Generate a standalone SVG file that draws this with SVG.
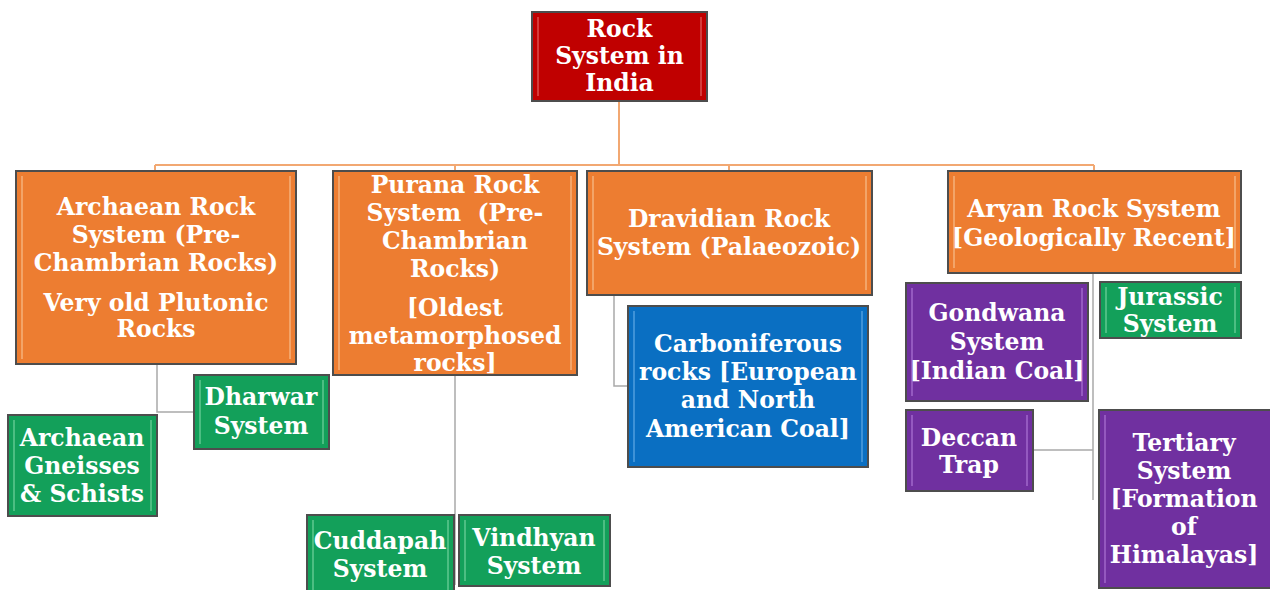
<svg xmlns="http://www.w3.org/2000/svg" width="1270" height="590" viewBox="0 0 1270 590">
<style>
.box{stroke:#4d4d4d;stroke-width:2}
.red{fill:#C00000}.org{fill:#ED7D31}.grn{fill:#13A05A}.blu{fill:#0A6FC2}.pur{fill:#7030A0}
.hl{fill:none;stroke-width:1.5;opacity:0.7}
.hred{stroke:#E87070}.horg{stroke:#F8C79A}.hgrn{stroke:#7FD8A8}.hblu{stroke:#6FB4EA}.hpur{stroke:#B57FDC}
.t{font-family:"DejaVu Serif","Liberation Serif",serif;font-weight:bold;font-size:23.5px;fill:#ffffff;text-anchor:middle}
.c1{stroke:#F2A872;stroke-width:2;fill:none}
.c2{stroke:#A9A9A9;stroke-width:1.5;fill:none}
</style>
<rect width="1270" height="590" fill="#ffffff"/>
<g id="connectors">
<path class="c1" d="M619,101 V165 M155,165 H1094 M155,165 V171 M455,165 V171 M729,165 V171 M1094,165 V171"/>
<path class="c2" d="M157,364 V412 H194"/>
<path class="c2" d="M455,375 V585"/>
<path class="c2" d="M614,295 V386 H628"/>
<path class="c2" d="M1093,273 V500 M1033,450 H1093"/>
</g>
<g id="root"><rect class="box red" x="532" y="12" width="175" height="89"/><path class="hl hred" d="M538,17 V96 M701,17 V96"/>
<text class="t" x="619.5" y="37">Rock</text><text class="t" x="619.5" y="64">System in</text><text class="t" x="619.5" y="91">India</text></g>
<g id="archaean"><rect class="box org" x="16" y="171" width="280" height="193"/><path class="hl horg" d="M22,176 V359 M290,176 V359"/>
<text class="t" x="156" y="215">Archaean Rock</text><text class="t" x="156" y="243">System (Pre-</text><text class="t" x="156" y="271">Chambrian Rocks)</text><text class="t" x="156" y="311">Very old Plutonic</text><text class="t" x="156" y="337">Rocks</text></g>
<g id="purana"><rect class="box org" x="333" y="171" width="244" height="204"/><path class="hl horg" d="M339,176 V370 M571,176 V370"/>
<text class="t" x="455" y="193">Purana Rock</text><text class="t" x="455" y="221" xml:space="preserve">System  (Pre-</text><text class="t" x="455" y="249">Chambrian</text><text class="t" x="455" y="277">Rocks)</text><text class="t" x="455" y="316">[Oldest</text><text class="t" x="455" y="344">metamorphosed</text><text class="t" x="455" y="371">rocks]</text></g>
<g id="dravidian"><rect class="box org" x="587" y="171" width="285" height="124"/><path class="hl horg" d="M593,176 V290 M866,176 V290"/>
<text class="t" x="729" y="227">Dravidian Rock</text><text class="t" x="729" y="255">System (Palaeozoic)</text></g>
<g id="aryan"><rect class="box org" x="948" y="171" width="293" height="102"/><path class="hl horg" d="M954,176 V268 M1235,176 V268"/>
<text class="t" x="1094" y="217">Aryan Rock System</text><text class="t" x="1094" y="246">[Geologically Recent]</text></g>
<g id="dharwar"><rect class="box grn" x="194" y="375" width="135" height="74"/><path class="hl hgrn" d="M200,380 V444 M323,380 V444"/>
<text class="t" x="261" y="405">Dharwar</text><text class="t" x="261" y="434">System</text></g>
<g id="gneisses"><rect class="box grn" x="8" y="415" width="149" height="101"/><path class="hl hgrn" d="M14,420 V511 M151,420 V511"/>
<text class="t" x="82" y="446">Archaean</text><text class="t" x="82" y="474">Gneisses</text><text class="t" x="82" y="502">&amp; Schists</text></g>
<g id="cuddapah"><rect class="box grn" x="307" y="515" width="147" height="80"/><path class="hl hgrn" d="M313,520 V590 M448,520 V590"/>
<text class="t" x="380" y="549">Cuddapah</text><text class="t" x="380" y="577">System</text></g>
<g id="vindhyan"><rect class="box grn" x="459" y="515" width="151" height="71"/><path class="hl hgrn" d="M465,520 V581 M604,520 V581"/>
<text class="t" x="534" y="546">Vindhyan</text><text class="t" x="534" y="574">System</text></g>
<g id="carboniferous"><rect class="box blu" x="628" y="306" width="240" height="161"/><path class="hl hblu" d="M634,311 V462 M862,311 V462"/>
<text class="t" x="748" y="352">Carboniferous</text><text class="t" x="748" y="380">rocks [European</text><text class="t" x="748" y="408">and North</text><text class="t" x="748" y="437">American Coal]</text></g>
<g id="gondwana"><rect class="box pur" x="906" y="283" width="182" height="118"/><path class="hl hpur" d="M912,288 V396 M1082,288 V396"/>
<text class="t" x="997" y="321">Gondwana</text><text class="t" x="997" y="350">System</text><text class="t" x="997" y="379">[Indian Coal]</text></g>
<g id="jurassic"><rect class="box grn" x="1100" y="282" width="141" height="56"/><path class="hl hgrn" d="M1106,287 V333 M1235,287 V333"/>
<text class="t" x="1170" y="305">Jurassic</text><text class="t" x="1170" y="332">System</text></g>
<g id="deccan"><rect class="box pur" x="906" y="410" width="127" height="81"/><path class="hl hpur" d="M912,415 V486 M1027,415 V486"/>
<text class="t" x="969" y="446">Deccan</text><text class="t" x="969" y="473">Trap</text></g>
<g id="tertiary"><rect class="box pur" x="1099" y="410" width="172" height="178"/><path class="hl hpur" d="M1105,415 V583"/>
<text class="t" x="1184" y="451">Tertiary</text><text class="t" x="1184" y="479">System</text><text class="t" x="1184" y="507">[Formation</text><text class="t" x="1184" y="535">of</text><text class="t" x="1184" y="563">Himalayas]</text></g>
</svg>
